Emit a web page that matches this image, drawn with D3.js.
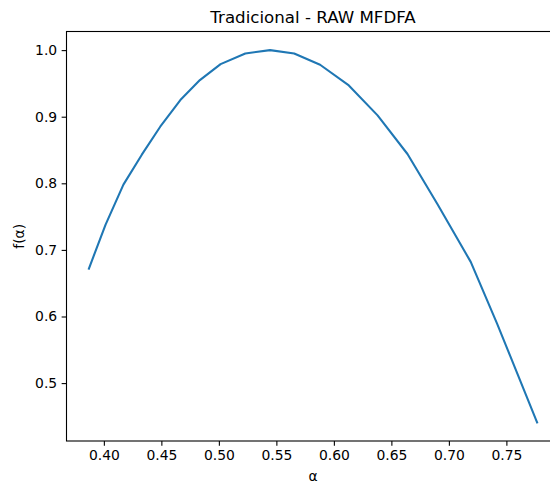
<!DOCTYPE html>
<html>
<head>
<meta charset="utf-8">
<script src="https://cdn.jsdelivr.net/npm/d3@7"></script>
<style>
  html, body { margin: 0; padding: 0; background: #fff; }
  svg { display: block; }
  text { font-family: "DejaVu Sans", sans-serif; fill: #000; }
</style>
</head>
<body>
<svg id="chart" width="550" height="484"></svg>
<script>
const alphaValues = [0.387, 0.4015, 0.417, 0.433, 0.449, 0.4665, 0.4835, 0.5015, 0.523, 0.5445, 0.5655, 0.588, 0.613, 0.638, 0.664, 0.690, 0.719, 0.742, 0.7767];
const fValues = [0.672, 0.738, 0.798, 0.843, 0.885, 0.925, 0.955, 0.979, 0.995, 1.000, 0.995, 0.978, 0.947, 0.902, 0.844, 0.769, 0.682, 0.589, 0.441];
const xTicks = [0.40, 0.45, 0.50, 0.55, 0.60, 0.65, 0.70, 0.75];
const yTicks = [0.5, 0.6, 0.7, 0.8, 0.9, 1.0];
const titleText = "Tradicional - RAW MFDFA";
const xLabel = "α";
const yLabel = "f(α)";

const data = alphaValues.map((a, i) => ({ a, f: fValues[i] }));

const L = 66.5, R = 559.5, T = 31.5, B = 441;
const svg = d3.select("#chart");

const xExt = d3.extent(alphaValues), yExt = d3.extent(fValues);
const xPad = (xExt[1] - xExt[0]) * 0.05, yPad = (yExt[1] - yExt[0]) * 0.05;
const x = d3.scaleLinear().domain([xExt[0] - xPad, xExt[1] + xPad]).range([L, R]);
const y = d3.scaleLinear().domain([yExt[0] - yPad, yExt[1] + yPad]).range([B, T]);

// line
svg.append("path")
  .datum(data)
  .attr("fill", "none")
  .attr("stroke", "#1f77b4")
  .attr("stroke-width", 2.08)
  .attr("stroke-linejoin", "round")
  .attr("stroke-linecap", "square")
  .attr("d", d3.line().x(d => x(d.a)).y(d => y(d.f)));

// axes
const xAxis = d3.axisBottom(x).tickValues(xTicks).tickFormat(d3.format(".2f")).tickSizeInner(4.86).tickSizeOuter(0).tickPadding(4.5);
const yAxis = d3.axisLeft(y).tickValues(yTicks).tickFormat(d3.format(".1f")).tickSizeInner(4.86).tickSizeOuter(0).tickPadding(4.5);

const gx = svg.append("g").attr("transform", `translate(0,${B})`).call(xAxis);
const gy = svg.append("g").attr("transform", `translate(${L},0)`).call(yAxis);
[gx, gy].forEach(g => {
  g.select(".domain").remove();
  g.selectAll(".tick line").attr("stroke", "#000").attr("stroke-width", 1.1);
  g.selectAll(".tick text").style("font-size", "13.9px").style("font-family", "DejaVu Sans, sans-serif").attr("fill", "#000");
});

// spines
svg.append("rect")
  .attr("x", L).attr("y", T).attr("width", R - L).attr("height", B - T)
  .attr("fill", "none").attr("stroke", "#000").attr("stroke-width", 1.1);

// title
svg.append("text")
  .attr("x", (L + R) / 2).attr("y", T - 8.5)
  .attr("text-anchor", "middle")
  .style("font-size", "16.67px")
  .text(titleText);

// x label
svg.append("text")
  .attr("x", (L + R) / 2).attr("y", 481)
  .attr("text-anchor", "middle")
  .style("font-size", "13.9px")
  .text(xLabel);

// y label
svg.append("text")
  .attr("transform", `translate(24,${(T + B) / 2}) rotate(-90)`)
  .attr("text-anchor", "middle")
  .style("font-size", "13.9px")
  .text(yLabel);
</script>
</body>
</html>
